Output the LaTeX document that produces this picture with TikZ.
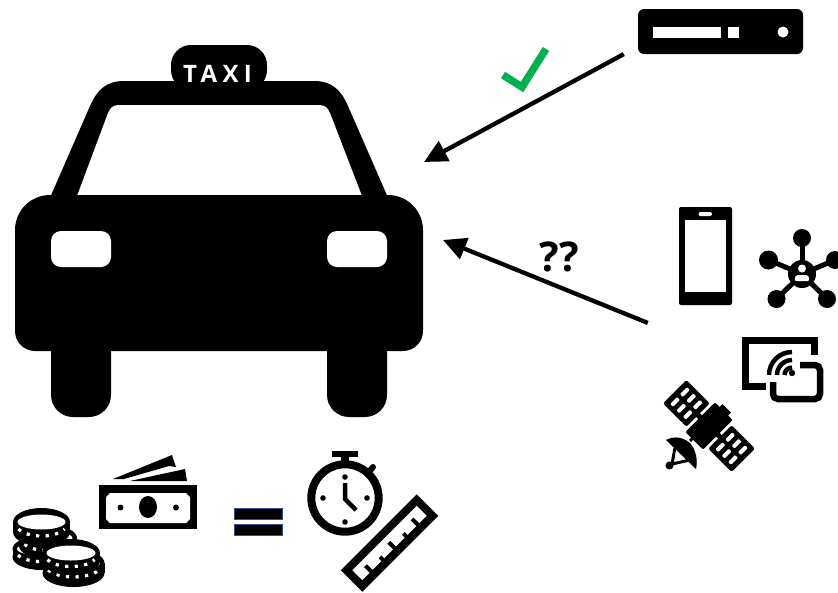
\documentclass[tikz,border=0pt]{standalone}
\usepackage{fontspec}
\usetikzlibrary{arrows.meta}
\setmainfont{Open Sans}
\newfontfamily\taxifont[LetterSpace=22]{Open Sans}
\definecolor{okgreen}{HTML}{00B050}
\definecolor{eqblue}{HTML}{2F528F}
\tikzset{
  link/.style={line width=4.3pt,-{Triangle[length=23pt,width=22pt]}}
}
\newcommand\mycoin[5]{%
  \fill (#1,#2) ellipse[x radius=#4,y radius=#5];
  \fill (#1,{#2+#3}) ellipse[x radius=#4,y radius=#5];
  \fill ({#1-#4},#2) rectangle ({#1+#4},{#2+#3});
  \draw[white,line width=3.2pt,dash pattern=on 3.2pt off 6.4pt]
    ({#1+(#4-3)*cos(155)},{#2+#3*0.2+(#5-2)*sin(155)})
    arc[start angle=155,end angle=25,x radius={#4-3},y radius={#5-2}];
  \fill[white] (#1,#2) ellipse[x radius={#4-4.5},y radius={#5-6.5}];
}
\newcommand\mypanel[1]{%
  \fill[rounded corners=2pt] ({#1-16.5},-16.5) rectangle ({#1+16.5},16.5);
  \foreach \uu in {-9,0,9}{\foreach \vv in {-7,7}{
    \fill[white,rounded corners=1pt] ({#1+\uu-2},{\vv-5}) rectangle ({#1+\uu+2},{\vv+5});
  }}
}
\begin{document}
\begin{tikzpicture}[x=1pt,y=-1pt]
\useasboundingbox (0,0) rectangle (838,592);
\fill[white] (0,0) rectangle (838,592);

% taxi
\fill[rounded corners=20pt] (171,90) -- (171,45) -- (267,45) -- (267,90) -- cycle;
\fill (49,200) -- (90,106) .. controls (97,90) and (106,81) .. (124,81)
  -- (314,81) .. controls (332,81) and (341,90) .. (348,106) -- (389,200) -- cycle;
\fill[white] (77,196) -- (108,113) .. controls (110,108) and (113,105) .. (119,105)
  -- (319,105) .. controls (325,105) and (328,108) .. (330,113) -- (362,196) -- cycle;
\fill (15,230) arc[start angle=180,end angle=270,radius=35] -- (388,195)
  arc[start angle=270,end angle=360,radius=35] -- (423,331)
  arc[start angle=0,end angle=90,radius=20] -- (35,351)
  arc[start angle=90,end angle=180,radius=20] -- cycle;
\fill[rounded corners=22pt] (51,330) rectangle (111,417);
\fill[rounded corners=22pt] (327,330) rectangle (387,417);
\fill[white,rounded corners=10pt] (51,231) rectangle (111,267);
\fill[white,rounded corners=10pt] (327,231) rectangle (387,267);
\node[text=white,inner sep=0pt] (taxilabel) at (217.5,74) {\taxifont\bfseries\fontsize{24}{24}\selectfont TAXI};

% server
\fill[rounded corners=6pt] (638,9) rectangle (803,54);
\fill[white] (653,27) rectangle (721,38);
\fill[white] (728,27) rectangle (739,38);
\fill[white] (783,32) circle[radius=5.5];

% phone
\fill[rounded corners=2pt] (679,207) rectangle (732,305);
\fill[white] (685,220) rectangle (726,292);
\fill[white,rounded corners=2pt] (698.5,212) rectangle (712,216);

% network
\foreach \nx/\ny/\nr in {802/238/9,768.5/260/9.5,835/260/9,776.5/299/9,827/299/9}{
  \draw[line width=5pt] (802,274) -- (\nx,\ny);
  \fill (\nx,\ny) circle[radius=\nr];
}
\fill (802,274) circle[radius=14];
\fill[white] (802,268.5) circle[radius=4];
\fill[white,rounded corners=2pt] (794.5,281) -- (795.5,275) -- (808.5,275) -- (809.5,281) -- cycle;

% cast
\draw[line width=7pt] (766,386.5) -- (745.5,386.5) -- (745.5,340.5) -- (814.5,340.5) -- (814.5,355);
\draw[line width=6.5pt,rounded corners=5pt] (800,365) -- (820,365) -- (820,399) -- (773,399) -- (773,382);
\draw[line width=4.5pt] (769,375) arc[start angle=180,end angle=270,radius=23];
\draw[line width=4.5pt] (777,375) arc[start angle=180,end angle=270,radius=15];
\draw[line width=4.5pt] (784.5,375) arc[start angle=180,end angle=270,radius=7.5];
\fill (792,373) circle[radius=3.2];

% satellite
\begin{scope}[shift={(709,426)},rotate=-45]
  \fill[rounded corners=2pt] (-12.5,-21) rectangle (12.5,21);
  \fill (-6,-25) rectangle (6,-20);
  \fill (-17,-2.5) rectangle (17,2.5);
  \mypanel{-32}\mypanel{32}
\end{scope}
\fill (666,440) .. controls (675,435) and (684,438) .. (690,443)
  .. controls (696,450) and (698,460) .. (696,469) -- cycle;
\draw[line width=3pt] (675,448) -- (672,464) -- (690,460);
\draw[line width=3pt] (690,441) -- (695,436);
\fill (669.5,465.5) circle[radius=4];
\fill[white] (675.5,451.5) -- (675.5,460.5) -- (684,459.5) -- cycle;

% coins
\mycoin{41.5}{549}{8}{29}{13}
\mycoin{48}{538}{8}{29}{13}
\mycoin{41.5}{522}{10}{28.5}{14}
\mycoin{73.5}{563}{10}{31}{14}
\mycoin{71}{553}{8}{29}{14}

% bill
\fill (99,485) rectangle (197,529);
\fill[white] (110,493) -- (186,493) -- (190,497) -- (190,519) -- (186,523) -- (110,523) -- (106,519) -- (106,497) -- cycle;
\fill (148,507) ellipse[x radius=9,y radius=11];
\fill (120.5,507.5) circle[radius=3];
\fill (176,507.5) circle[radius=3];
\fill (113,479) -- (172,455) -- (176,467) -- (169,466) -- (124,479) -- cycle;
\fill (130,481) -- (185,469) -- (187,481) -- cycle;

% equals
\fill[black,draw=eqblue,line width=1pt] (234.5,508.5) rectangle (282.5,519.5);
\fill[black,draw=eqblue,line width=1pt] (234.5,524.5) rectangle (282.5,535);

% stopwatch
\draw[line width=8pt] (345,498) circle[radius=33.7];
\fill (332,451) rectangle (358,457);
\fill (341,457) rectangle (349,463);
\draw[line width=6pt,line cap=round] (368,473) -- (373,467);
\foreach \dx/\dy in {345/477,323/498,367/498,345/522}{\fill (\dx,\dy) circle[radius=2.8];}
\draw[line width=4.5pt] (345,483) -- (345,499) -- (356,510);

% ruler
\begin{scope}[shift={(389.5,543)},rotate=45]
  \draw[line width=8pt] (-49.7,-11.2) rectangle (49.7,11.2);
  \foreach \tu/\tl in {-33/-1,-16.5/3,0/-1,16.5/3,33/-1}{
    \draw[line width=4pt] (\tu,11) -- (\tu,\tl);
  }
\end{scope}

% arrows
\node[inner sep=0pt,minimum size=0pt] (serverend) at (624,54) {};
\node[inner sep=0pt,minimum size=0pt] (devicesend) at (648,323) {};
\coordinate (taxitop) at (424,162);
\coordinate (taxiside) at (443,240);
\draw[link] (serverend) -- (taxitop);
\draw[link] (devicesend) -- (taxiside);
\draw[okgreen,line width=7.5pt] (503,75) -- (522,87) -- (546,49);
\node[inner sep=0pt] (qq) at (559,256.5) {\bfseries\fontsize{41}{41}\selectfont ??};
\end{tikzpicture}
\end{document}
